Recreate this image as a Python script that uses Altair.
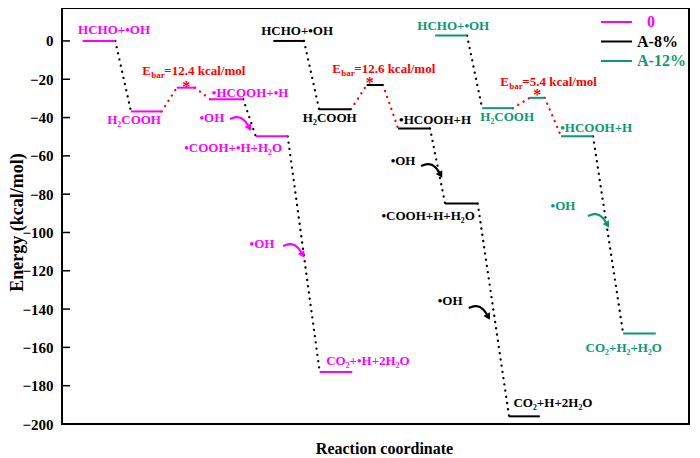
import altair as alt
import pandas as pd

FONT = "Liberation Serif"

series = ["0", "A-8%", "A-12%"]
colors = ["#ff00ff", "#000000", "#0a9a72"]

# ---- energy levels (reaction coordinate 0..100, energy kcal/mol) ----
s0_state = ["HCHO+OH", "H2COOH", "TS", "HCOOH+H", "COOH+H+H2O", "CO2+H+2H2O"]
s0_energy = [0, -36.8, -24.4, -30.4, -49.8, -172.8]
s0_x0 = [3.3, 11.0, 18.3, 23.6, 30.9, 41.1]
s0_x1 = [8.5, 15.9, 21.2, 28.9, 36.0, 46.3]

s1_state = ["HCHO+OH", "H2COOH", "TS", "HCOOH+H", "COOH+H+H2O", "CO2+H+2H2O"]
s1_energy = [0, -35.6, -23.0, -45.7, -84.9, -196.0]
s1_x0 = [33.7, 41.0, 48.6, 53.6, 61.1, 71.3]
s1_x1 = [38.6, 46.1, 51.2, 58.7, 66.3, 76.2]

s2_state = ["HCHO+OH", "H2COOH", "TS", "HCOOH+H", "CO2+H2+H2O"]
s2_energy = [2.8, -35.1, -29.7, -49.8, -152.8]
s2_x0 = [59.5, 67.0, 74.6, 79.6, 89.5]
s2_x1 = [64.6, 71.9, 77.0, 84.7, 94.7]

# ---- labels ----
s0_labels = ["HCHO+•OH", "H₂COOH", "•HCOOH+•H", "•COOH+•H+H₂O", "CO₂+•H+2H₂O"]
s0_lab_x = [8.3, 11.5, 30.0, 27.3, 48.8]
s0_lab_y = [5.7, -41.2, -27.1, -55.9, -167.1]
s0_oh_x = [23.9, 31.9]
s0_oh_y = [-40.2, -106.0]
s0_tip_x = [29.8, 38.3]
s0_tip_y = [-44.9, -111.2]

s1_labels = ["HCHO+•OH", "H₂COOH", "•HCOOH+H", "•COOH+H+H₂O", "CO₂+H+2H₂O"]
s1_lab_x = [37.5, 42.7, 59.5, 58.4, 78.3]
s1_lab_y = [5.2, -40.2, -41.2, -91.4, -189.0]
s1_oh_x = [54.4, 61.9]
s1_oh_y = [-62.7, -135.7]
s1_tip_x = [60.3, 67.9]
s1_tip_y = [-69.5, -143.6]

s2_labels = ["HCHO+•OH", "H₂COOH", "•HCOOH+H", "CO₂+H₂+H₂O"]
s2_lab_x = [62.4, 71.0, 85.2, 89.6]
s2_lab_y = [7.8, -39.7, -45.4, -160.3]
s2_oh_x = [79.9]
s2_oh_y = [-86.1]
s2_tip_x = [86.9]
s2_tip_y = [-95.6]

ebar_values = [12.4, 12.6, 5.4]
ebar_x = [12.8, 43.1, 69.9]
ebar_y = [-15.7, -14.6, -21.4]
star_x = [19.8, 49.1, 75.8]
star_y = [-22.5, -20.4, -26.7]

y_ticks = [0, -20, -40, -60, -80, -100, -120, -140, -160, -180, -200]

# chart geometry used to convert the arrow shape (pixels) into data units
W, H = 627, 416
XDOM, YDOM = [0, 100], [-200, 17.2]
PX_X = W / (XDOM[1] - XDOM[0])
PX_Y = H / (YDOM[1] - YDOM[0])
arrow_shape = [(-19, -8), (-11, -11), (-4, -7), (0, 0)]  # pixel offsets from the tip

# ---- build tables ----
level_rows, conn_rows, label_rows, arr_rows, tip_rows = [], [], [], [], []
all_levels = [
    (s0_state, s0_energy, s0_x0, s0_x1),
    (s1_state, s1_energy, s1_x0, s1_x1),
    (s2_state, s2_energy, s2_x0, s2_x1),
]
seg = 0
for si, (st, en, x0, x1) in enumerate(all_levels):
    for j in range(len(st)):
        level_rows.append(dict(series=series[si], state=st[j], e=en[j], x0=x0[j], x1=x1[j]))
        if j + 1 < len(st):
            kind = "ts" if (st[j] == "TS" or st[j + 1] == "TS") else "step"
            conn_rows.append(dict(seg=seg, o=0, x=x1[j], e=en[j], kind=kind))
            conn_rows.append(dict(seg=seg, o=1, x=x0[j + 1], e=en[j + 1], kind=kind))
            seg += 1

aid = 0
for si, (lab, lx, ly, ox, oy, tx, ty) in enumerate([
    (s0_labels, s0_lab_x, s0_lab_y, s0_oh_x, s0_oh_y, s0_tip_x, s0_tip_y),
    (s1_labels, s1_lab_x, s1_lab_y, s1_oh_x, s1_oh_y, s1_tip_x, s1_tip_y),
    (s2_labels, s2_lab_x, s2_lab_y, s2_oh_x, s2_oh_y, s2_tip_x, s2_tip_y),
]):
    for t, x, y in zip(lab, lx, ly):
        label_rows.append(dict(series=series[si], text=t, x=x, e=y))
    for x, y in zip(ox, oy):
        label_rows.append(dict(series=series[si], text="•OH", x=x, e=y))
    for x, y in zip(tx, ty):
        for k, (dxp, dyp) in enumerate(arrow_shape):
            arr_rows.append(dict(series=series[si], aid=aid, o=k,
                                 x=x + dxp / PX_X, e=y - dyp / PX_Y))
        tip_rows.append(dict(series=series[si], x=x, e=y))
        aid += 1

levels = pd.DataFrame(level_rows)
conns = pd.DataFrame(conn_rows)
labels = pd.DataFrame(label_rows)
arrows = pd.DataFrame(arr_rows)
tips = pd.DataFrame(tip_rows)
ebar = pd.DataFrame(dict(v=ebar_values, x=ebar_x, e=ebar_y))
ebar["rest"] = ebar["v"].map(lambda v: f"={v} kcal/mol")
stars = pd.DataFrame(dict(x=star_x, e=star_y))
ticks = pd.DataFrame(dict(e=y_ticks))

xs = alt.Scale(domain=XDOM, nice=False)
ys = alt.Scale(domain=YDOM, nice=False)
cs = alt.Scale(domain=series, range=colors)

X = alt.X("x:Q", scale=xs, axis=alt.Axis(labels=False, ticks=False, domain=False, grid=False,
                                          title="Reaction coordinate", titleFont=FONT,
                                          titleFontSize=16, titleFontWeight="bold",
                                          titleX=322, titleY=24, titleAlign="center",
                                          titleBaseline="middle", titleColor="black"))
Y = alt.Y("e:Q", scale=ys, axis=alt.Axis(values=y_ticks, labelFont=FONT, labelFontSize=15,
                                          labelFontWeight="bold", labelColor="black",
                                          ticks=False, domain=False, grid=False, labelPadding=9,
                                          title="Energy (kcal/mol)", titleFont=FONT,
                                          titleFontSize=18, titleFontWeight="bold",
                                          titleColor="black", titleX=-45, titleY=214,
                                          titleAlign="center", titleBaseline="middle"))

conn_step = alt.Chart(conns).transform_filter(alt.datum.kind == "step").mark_line(
    strokeDash=[0.1, 6.2], strokeCap="round", strokeWidth=2.3, color="#000000").encode(
    x=X, y=Y, detail="seg:N", order="o:Q")
conn_ts = alt.Chart(conns).transform_filter(alt.datum.kind == "ts").mark_line(
    strokeDash=[0.1, 6.2], strokeCap="round", strokeWidth=2.3, color="#ff0000").encode(
    x=alt.X("x:Q", scale=xs), y=alt.Y("e:Q", scale=ys), detail="seg:N", order="o:Q")

level_layer = alt.Chart(levels).mark_rule(strokeWidth=2).encode(
    x=alt.X("x0:Q", scale=xs), x2="x1:Q", y=alt.Y("e:Q", scale=ys),
    color=alt.Color("series:N", scale=cs, legend=None))

tick_layer = alt.Chart(ticks).mark_rule(strokeWidth=1.5, color="black").encode(
    x=alt.value(0), x2=alt.value(8), y=alt.Y("e:Q", scale=ys))

label_layer = alt.Chart(labels).mark_text(font=FONT, fontSize=13, fontWeight="bold",
                                          align="center", baseline="middle").encode(
    x=alt.X("x:Q", scale=xs), y=alt.Y("e:Q", scale=ys), text="text:N",
    color=alt.Color("series:N", scale=cs, legend=None))

arrow_layer = alt.Chart(arrows).mark_line(interpolate="basis", strokeWidth=2.2).encode(
    x=alt.X("x:Q", scale=xs), y=alt.Y("e:Q", scale=ys), detail="aid:N", order="o:Q",
    color=alt.Color("series:N", scale=cs, legend=None))
tip_layer = alt.Chart(tips).mark_point(shape="triangle", angle=150, filled=True, size=55,
                                       opacity=1).encode(
    x=alt.X("x:Q", scale=xs), y=alt.Y("e:Q", scale=ys),
    color=alt.Color("series:N", scale=cs, legend=None))

ebar_base = alt.Chart(ebar).encode(x=alt.X("x:Q", scale=xs), y=alt.Y("e:Q", scale=ys))
ebar_E = ebar_base.mark_text(font=FONT, fontSize=13, fontWeight="bold", color="#ff0000",
                             align="left", baseline="middle").encode(text=alt.value("E"))
ebar_sub = ebar_base.mark_text(font=FONT, fontSize=9, fontWeight="bold", color="#ff0000",
                               align="left", baseline="middle", dx=9, dy=4).encode(text=alt.value("bar"))
ebar_rest = ebar_base.mark_text(font=FONT, fontSize=13, fontWeight="bold", color="#ff0000",
                                align="left", baseline="middle", dx=22).encode(text="rest:N")

star_layer = alt.Chart(stars).mark_text(font=FONT, fontSize=16, fontWeight="bold", color="#ff0000",
                                        align="center", baseline="middle", dy=3).encode(
    x=alt.X("x:Q", scale=xs), y=alt.Y("e:Q", scale=ys), text=alt.value("*"))

legend_df = pd.DataFrame(dict(series=series))
legend_layers = []
for i, name in enumerate(series):
    yy = 14 + 19.5 * i
    tx = 585 if name == "0" else 575
    legend_layers.append(
        alt.Chart(legend_df).transform_filter(alt.datum.series == name)
        .mark_rule(strokeWidth=2, color=colors[i])
        .encode(x=alt.value(539), x2=alt.value(570), y=alt.value(yy)))
    legend_layers.append(
        alt.Chart(legend_df).transform_filter(alt.datum.series == name)
        .mark_text(font=FONT, fontSize=16, fontWeight="bold", color=colors[i],
                   align="left", baseline="middle")
        .encode(x=alt.value(tx), y=alt.value(yy), text="series:N"))

chart = alt.layer(conn_step, conn_ts, level_layer, tick_layer, label_layer, arrow_layer,
                  tip_layer, ebar_E, ebar_sub, ebar_rest, star_layer, *legend_layers).properties(
    width=W, height=H,
    padding={"left": 54, "top": 0, "right": 3, "bottom": 34},
    autosize=alt.AutoSizeParams(type="none"),
).configure_view(stroke="black", strokeWidth=2)

chart.save("out.html", embed_options={"renderer": "svg", "actions": False})
